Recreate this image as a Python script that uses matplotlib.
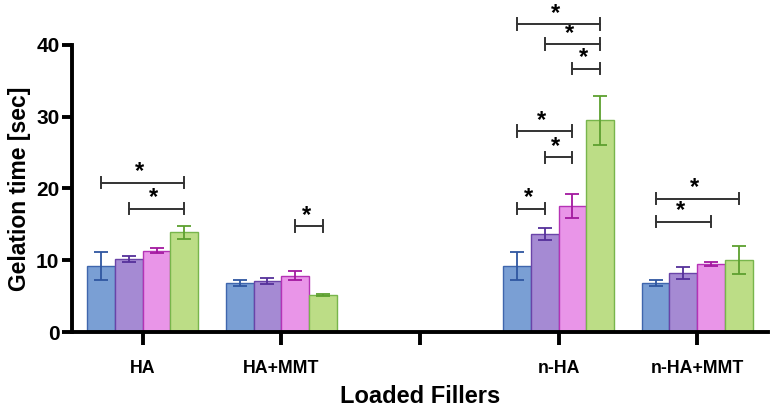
import numpy as np
import matplotlib
matplotlib.use("Agg")
import matplotlib.pyplot as plt

plt.rcParams['font.family'] = ['Liberation Sans', 'DejaVu Sans']
plt.rcParams['font.weight'] = 'bold'

groups = ["HA", "HA+MMT", "", "n-HA", "n-HA+MMT"]
group_pos = [0, 1, 3, 4]   # slot 2 is an empty tick

# four formulations per filler (blue, purple, pink, green)
means = [
    [9.2, 10.2, 11.3, 13.9],
    [6.85, 7.1, 7.85, 5.2],
    [9.2, 13.65, 17.6, 29.5],
    [6.85, 8.2, 9.5, 10.05],
]
errs = [
    [2.0, 0.45, 0.35, 0.9],
    [0.45, 0.4, 0.65, 0.15],
    [2.0, 0.85, 1.7, 3.4],
    [0.45, 0.85, 0.25, 1.95],
]

fill_colors = ["#7a9fd4", "#a58ad3", "#e995e8", "#bcdd86"]
edge_colors = ["#3f66ad", "#6a44a8", "#b533b5", "#78b54c"]
err_colors = ["#2f56a0", "#55309a", "#a3189f", "#5da02f"]

# significance brackets: (group index, bar i, bar j, height)
brackets = [
    (0, 0, 3, 20.8), (0, 1, 3, 17.2),
    (1, 2, 3, 14.8),
    (2, 0, 3, 42.9), (2, 1, 3, 40.1), (2, 2, 3, 36.7),
    (2, 0, 2, 28.0), (2, 1, 2, 24.35), (2, 0, 1, 17.2),
    (3, 0, 3, 18.6), (3, 0, 2, 15.4),
]

width = 0.2
offsets = (np.arange(4) - 1.5) * width

fig = plt.figure(figsize=(7.74, 4.08), dpi=100)
ax = fig.add_axes([0.093, 0.186, 0.899, 0.704])

for k in range(4):
    xs = np.array(group_pos) + offsets[k]
    vals = [m[k] for m in means]
    es = [e[k] for e in errs]
    ax.bar(xs, vals, width, color=fill_colors[k], edgecolor=edge_colors[k],
           linewidth=1.0, zorder=2)
    ax.errorbar(xs, vals, yerr=es, fmt='none', ecolor=err_colors[k],
                elinewidth=1.3, capsize=5, capthick=1.3, zorder=3)

for g, i, j, h in brackets:
    x1 = group_pos[g] + offsets[i]
    x2 = group_pos[g] + offsets[j]
    ax.plot([x1, x2], [h, h], color="#333333", lw=1.4, clip_on=False, zorder=4)
    for xx in (x1, x2):
        ax.plot([xx, xx], [h - 0.8, h + 0.8], color="#333333", lw=1.4,
                clip_on=False, zorder=4)
    ax.text((x1 + x2) / 2 - 0.02, h + 0.6, "*", ha="center", va="baseline",
            fontsize=17, fontweight="bold", color="black", clip_on=False)

ax.set_xlim(-0.51, 4.51)
ax.set_ylim(0, 40)
ax.set_yticks([0, 10, 20, 30, 40])
ax.set_xticks(range(5))
ax.set_xticklabels(groups, fontsize=12.8, fontweight="bold")
ax.tick_params(axis='y', labelsize=15, width=2.8, length=7, pad=2)
ax.tick_params(axis='x', width=2.8, length=9, pad=11)
for lbl in ax.get_yticklabels():
    lbl.set_fontweight("bold")

for s in ("top", "right"):
    ax.spines[s].set_visible(False)
for s in ("left", "bottom"):
    ax.spines[s].set_linewidth(2.8)

ax.set_ylabel("Gelation time [sec]", fontsize=16.5, fontweight="bold", labelpad=4)
ax.set_xlabel("Loaded Fillers", fontsize=17, fontweight="bold", labelpad=6)

fig.savefig("out.png", dpi=100)
